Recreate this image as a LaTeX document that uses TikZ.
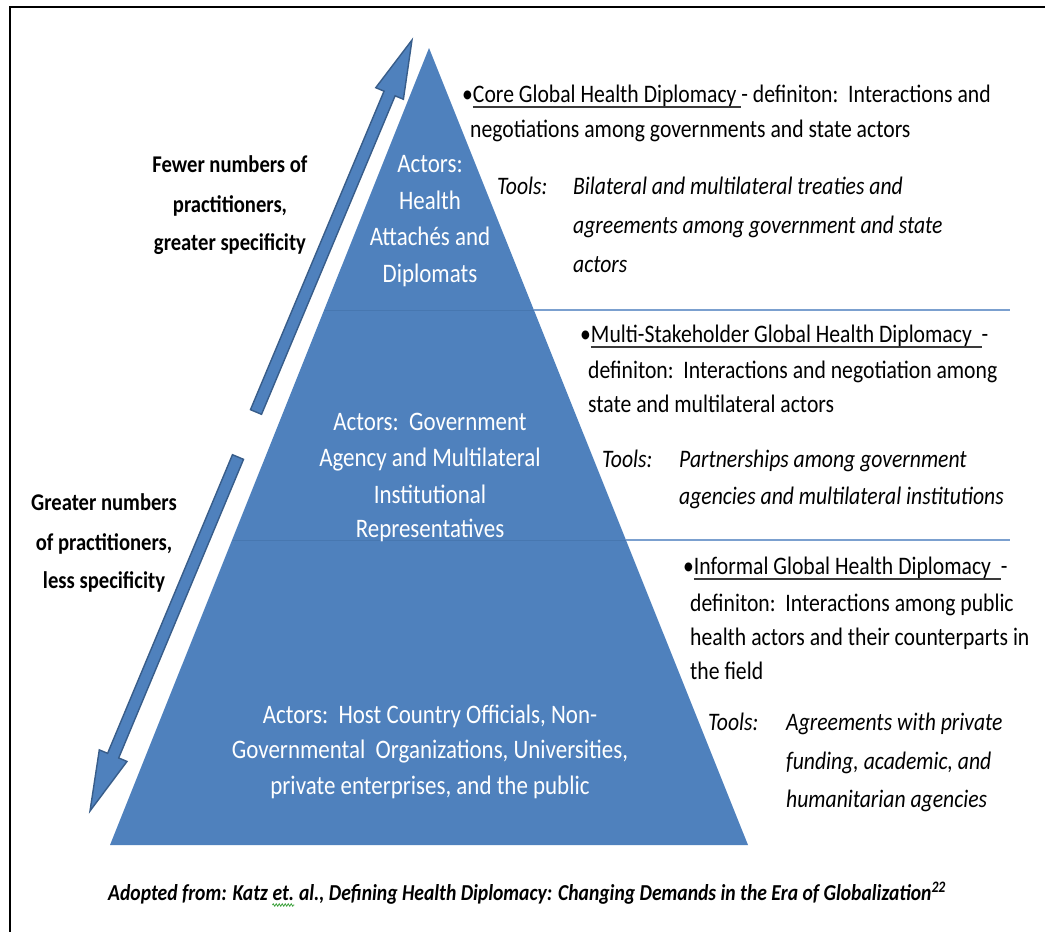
\documentclass[tikz,border=0pt]{standalone}
\usepackage{fontspec}
\setmainfont{Carlito}[FakeStretch=0.86]
\usetikzlibrary{calc,decorations.pathmorphing}
\definecolor{pyrblue}{HTML}{4F81BD}
\definecolor{arrowline}{HTML}{385D8A}
\definecolor{divblue}{HTML}{7BA0CF}
\definecolor{divinner}{HTML}{4777B0}
\definecolor{ulgray}{HTML}{3A3A3A}
\definecolor{squiggle}{HTML}{3FA33F}
\newcommand{\thickul}[1]{\setbox0\hbox{#1}\rlap{\raisebox{-6pt}{\textcolor{ulgray}{\rule{\wd0}{2pt}}}}\box0}
\newcommand{\fatarrow}[4]{%
  \coordinate (#4-b) at ($(#2)!#3!(#1)$);
  \filldraw[blockarrow] ($(#1)!6pt!90:(#2)$) -- ($(#4-b)!6pt!90:(#2)$) -- ($(#4-b)!15pt!90:(#2)$) -- (#2)
    -- ($(#4-b)!15pt!-90:(#2)$) -- ($(#4-b)!6pt!-90:(#2)$) -- ($(#1)!6pt!-90:(#2)$) -- cycle;
}
\begin{document}
\begin{tikzpicture}[x=1pt,y=-1pt,
  frame/.style={black, line width=2pt},
  blockarrow/.style={fill=pyrblue, draw=arrowline, line width=1.4pt, line join=miter},
  divout/.style={draw=divblue, line width=1.6pt},
  divin/.style={draw=divinner, line width=0.8pt},
  ptxt/.style={text=white, font=\fontsize{26.7}{30}\selectfont, anchor=base, inner sep=0pt},
  rtxt/.style={font=\fontsize{25.2}{30}\selectfont, anchor=base west, inner sep=0pt},
  itxt/.style={font=\fontsize{25.2}{30}\selectfont\itshape, anchor=base west, inner sep=0pt},
  ltxt/.style={font=\fontsize{24}{30}\selectfont\bfseries, anchor=base, inner sep=0pt},
  captxt/.style={font=\fontsize{22.8}{30}\selectfont\bfseries\itshape, anchor=base west, inner sep=0pt},
  squig/.style={draw=squiggle, line width=0.8pt, decorate, decoration={zigzag, segment length=3pt, amplitude=1.2pt}}]
\useasboundingbox (0,0) rectangle (1045,932);
\fill[white] (0,0) rectangle (1045,932);
\draw[frame] (10,932) -- (10,7) -- (1045,7);
% pyramid
\coordinate (apex) at (429,48);
\coordinate (bl) at (110,845);
\coordinate (br) at (748,845);
\fill[pyrblue] (apex) -- (br) -- (bl) -- cycle;
% dividers
\coordinate (d1l) at (324,310); \coordinate (d1m) at (534,310); \coordinate (d1r) at (1010,310);
\coordinate (d2l) at (232,540); \coordinate (d2m) at (626,540); \coordinate (d2r) at (1010,540);
\draw[divin] (d1l) -- (d1m);
\draw[divout] (d1m) -- (d1r);
\draw[divin] (d2l) -- (d2m);
\draw[divout] (d2m) -- (d2r);
% arrows
\coordinate (upT) at (256,412); \coordinate (upP) at (412,40);
\fatarrow{upT}{upP}{58pt}{up}
\coordinate (dnT) at (238,457); \coordinate (dnP) at (90,811);
\fatarrow{dnT}{dnP}{60pt}{dn}
% pyramid texts
\node[ptxt] (p1a) at (430,172) {Actors:};
\node[ptxt] (p1b) at (430,209) {Health};
\node[ptxt] (p1c) at (430,245) {Attachés and};
\node[ptxt] (p1d) at (430,282) {Diplomats};
\node[ptxt] (p2a) at (430,430) {Actors:\ \ Government};
\node[ptxt] (p2b) at (430,466) {Agency and Multilateral};
\node[ptxt] (p2c) at (430,503) {Institutional};
\node[ptxt] (p2d) at (430,537) {Representatives};
\node[ptxt] (p3a) at (430,723) {Actors:\ \ Host Country Officials, Non-};
\node[ptxt] (p3b) at (430,758) {Governmental\ \ Organizations, Universities,};
\node[ptxt] (p3c) at (430,794) {private enterprises, and the public};
% left texts
\node[ltxt] (l1a) at (230,172) {Fewer numbers of};
\node[ltxt] (l1b) at (230,212) {practitioners,};
\node[ltxt] (l1c) at (230,250) {greater specificity};
\node[ltxt] (l2a) at (104,510) {Greater numbers};
\node[ltxt] (l2b) at (104,550) {of practitioners,};
\node[ltxt] (l2c) at (104,588) {less specificity};
% block 1
\node[rtxt] (c1a) at (462,102) {\textbullet\thickul{Core Global Health Diplomacy\ }- definiton:\ \ Interactions and};
\node[rtxt] (c1b) at (470,137) {negotiations among governments and state actors};
\node[itxt] (c1t) at (497,194) {Tools:};
\node[itxt] (c1c) at (573,194) {Bilateral\ and multilateral\ treaties and};
\node[itxt] (c1d) at (573,233) {agreements among government and state};
\node[itxt] (c1e) at (573,272) {actors};
% block 2
\node[rtxt] (c2a) at (580,342) {\textbullet\thickul{Multi-Stakeholder Global Health Diplomacy\ \ }-};
\node[rtxt] (c2b) at (588,378) {definiton:\ \ Interactions and negotiation among};
\node[rtxt] (c2c) at (588,412) {state and multilateral actors};
\node[itxt] (c2t) at (602,467) {Tools:};
\node[itxt] (c2d) at (679,467) {Partnerships among government};
\node[itxt] (c2e) at (679,504) {agencies and multilateral institutions};
% block 3
\node[rtxt] (c3a) at (683,574) {\textbullet\thickul{Informal\ Global Health Diplomacy\ \ }-};
\node[rtxt] (c3b) at (690,611) {definiton:\ \ Interactions among public};
\node[rtxt] (c3c) at (690,645) {health actors and their counterparts in};
\node[rtxt] (c3d) at (690,679) {the field};
\node[itxt] (c3t) at (708,730) {Tools:};
\node[itxt] (c3e) at (786,730) {Agreements with private};
\node[itxt] (c3f) at (786,769) {funding, academic, and};
\node[itxt] (c3g) at (786,807) {humanitarian agencies};
% caption
\node[captxt] (cap1) at (108,900) {Adopted from: Katz\ \mbox{}};
\node[captxt] (cap2) at (cap1.base east) {et.};
\node[captxt] (cap3) at (cap2.base east) {\mbox{}\ al., Defining Health Diplomacy: Changing Demands in the Era of Globalization\textsuperscript{22}};
\draw[squig] ([yshift=-5pt]cap2.base west) -- ([yshift=-5pt]cap2.base east);
\end{tikzpicture}
\end{document}
